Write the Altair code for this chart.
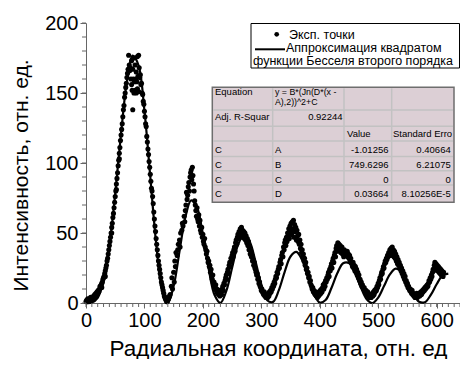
import altair as alt
import pandas as pd

# ---------------- data ----------------
# fitted curve  y = B*(J2(D*(x-A)))^2 + C
fit_x = list(range(0, 621, 10))
fit_y = [0.0, 0.3, 3.7, 15.7, 40.6, 78.0, 121.1, 158.1, 176.7, 169.5,
         137.4, 90.2, 42.9, 10.1, 0.1, 12.1, 36.9, 61.2, 73.3, 68.2,
         48.8, 24.3, 5.7, 0.1, 8.5, 25.2, 41.3, 48.6, 43.9, 29.8,
         13.3, 2.0, 0.8, 9.2, 22.3, 33.2, 36.5, 30.6, 18.7, 6.8,
         0.3, 2.1, 10.7, 21.2, 28.4, 28.5, 21.7, 11.5, 2.9, 0.0,
         3.9, 12.1, 20.4, 24.5, 22.3, 15.1, 6.6, 0.9, 0.6, 5.8,
         13.4, 19.5, 21.0]

# experimental points, lobe by lobe (x, y)
exp_rise0 = [(0,1),(1,2),(2,1),(3,3),(4,2),(5,2),(6,3),(7,2),(8,4),(9,3),(10,3),(11,4),(12,3),(13,5),(14,4),
             (15,6),(16,5),(17,7),(18,6),(19,8),(20,7),(21,9),(22,8),(23,10),(24,12),(25,11),(26,13),(27,14),
             (28,15),(29,17),(30,18),(31,19),(32,21),(33,23),(34,25),(35,27),(36,30),(37,32),(38,35),(39,38),
             (40,41),(41,44),(42,47),(43,50),(44,54),(45,57),(46,61),(47,64),(48,68),(49,72),(50,76),(51,80),
             (52,85),(53,89),(54,93),(55,98),(56,102),(57,107),(58,111),(59,116),(60,120),
             (27,11),(33,19),(44,50),(52,81),(57,103)]
exp_lobe1 = [(61,124),(62,128),(63,133),(64,138),(65,141),(66,147),(67,150),(68,154),(69,157),(70,161),
             (71,164),(72,167),(73,177),(74,170),(75,166),(76,168),(77,160),(78,173),(78,156),(79,152),
             (80,138),(80,167),(81,160),(82,150),(82,175),(83,158),(84,152),(84,170),(85,160),(86,150),
             (86,165),(87,158),(88,176),(88,153),(89,162),(90,177),(90,151),(91,168),(92,161),(93,163),
             (94,156),(95,157),(96,150),(97,149),(98,144),(99,142),(100,137),(101,133),(102,128),(103,126),
             (104,119),(105,115),(106,110),(107,106),(108,101),(109,97),(110,92),(111,87),(112,82),(113,80),
             (114,76),(115,71),(116,65),(117,60),(118,55),(119,51),(120,46),(121,42),(122,38),(123,34),
             (124,30),(125,27),(126,24),(127,21),(128,18),(129,15),(130,13),(131,11),(132,9),(133,7),
             (134,5),(135,4),(136,3),(137,2),(138,1),(139,1),(140,2),(141,3),(142,4),(143,5)]
exp_lobe2 = [(144,6),(146,12),(147,18),(148,10),(150,22),(151,15),(152,30),(153,26),(154,36),(156,34),
             (157,38),(158,42),(160,45),(161,40),(162,50),(164,52),(165,57),(166,55),(168,62),(169,58),
             (170,66),(171,70),(172,79),(173,74),(174,77),(175,83),(176,86),(177,80),(178,90),(179,93),
             (180,95),(181,88),(182,97),(183,91),(184,85),(185,80),(186,73),(187,70),(188,66),(189,62),
             (190,68),(191,60),(192,58),(193,63),(194,55),(195,59),(196,52),(197,50),(198,54),(199,47),
             (200,49),(201,44),(202,42),(203,46),(204,40),(205,38),(206,35),(207,37),(208,32),(209,29),
             (210,30),(211,26),(212,27),(213,22),(214,24),(215,19),(216,17),(217,20),(218,14),(219,15),
             (220,12),(221,11),(222,13),(223,9),(224,10),(225,7),(226,8),(227,6),(228,9),(229,5),
             (230,7),(231,8),(232,6)]
exp_lobe3 = [(233,10),(234,12),(235,9),(236,14),(237,13),(238,16),(239,18),(240,20),(241,17),(242,22),
             (243,24),(244,21),(245,27),(246,29),(247,26),(248,32),(249,30),(250,34),(251,36),(252,33),
             (253,38),(254,40),(255,37),(256,43),(257,45),(258,42),(259,47),(260,49),(261,46),(262,51),
             (263,48),(264,53),(265,50),(266,54),(267,47),(268,52),(269,49),(270,51),(271,46),(272,50),
             (273,45),(274,48),(275,43),(276,46),(277,41),(278,44),(279,38),(280,40),(281,35),(282,37),
             (283,33),(284,34),(285,30),(286,31),(287,27),(288,29),(289,25),(290,24),(291,22),(292,20),
             (293,21),(294,17),(295,18),(296,14),(297,15),(298,12),(299,11),(300,9),(301,10),(302,8),
             (303,7),(304,6),(305,8),(306,5),(307,6),(308,4),(309,5),(310,6),(311,4),(312,7),
             (313,5),(314,8),(315,7)]
exp_lobe4 = [(316,9),(317,8),(318,11),(319,10),(320,13),(321,12),(322,15),(323,14),(324,17),(325,19),
             (326,18),(327,22),(328,21),(329,24),(330,26),(331,25),(332,29),(333,31),(334,28),(335,34),
             (336,36),(337,33),(338,40),(339,38),(340,43),(341,45),(342,41),(343,47),(344,44),(345,50),
             (346,48),(347,53),(348,46),(349,55),(350,51),(351,57),(352,49),(353,58),(354,53),(355,59),
             (356,47),(357,56),(358,51),(359,54),(360,45),(361,52),(362,48),(363,44),(364,49),(365,42),
             (366,45),(367,39),(368,42),(369,36),(370,38),(371,33),(372,35),(373,30),(374,32),(375,27),
             (376,29),(377,24),(378,25),(379,21),(380,22),(381,18),(382,19),(383,15),(384,16),(385,13),
             (386,12),(387,10),(388,11),(389,8),(390,9),(391,7),(392,6),(393,8),(394,5),(395,7),
             (396,4),(397,6),(398,5),(399,8),(400,6)]
exp_lobe5 = [(401,9),(402,7),(403,10),(404,8),(405,11),(406,13),(407,10),(408,14),(409,12),(410,16),
             (411,15),(412,18),(413,17),(414,20),(415,22),(416,19),(417,24),(418,23),(419,26),(420,28),
             (421,25),(422,30),(423,32),(424,29),(425,34),(426,36),(427,33),(428,39),(429,41),(430,37),
             (431,43),(432,40),(433,42),(434,38),(435,41),(436,36),(437,39),(438,40),(439,35),(440,37),
             (441,33),(442,38),(443,34),(444,36),(445,36),(446,34),(447,37),(448,33),(449,35),(450,32),
             (451,34),(452,30),(453,32),(454,29),(455,28),(456,26),(457,29),(458,25),(459,27),(460,23),
             (461,26),(462,22),(463,24),(464,20),(465,22),(466,18),(467,20),(468,16),(469,17),(470,14),
             (471,15),(472,12),(473,13),(474,11),(475,10),(476,11),(477,9),(478,8),(479,9),(480,7),
             (481,6),(482,8),(483,5),(484,6),(485,4),(486,5),(487,6),(488,4),(489,5),(490,7),
             (491,5),(492,8),(493,6),(494,9),(495,8)]
exp_lobe6 = [(496,10),(497,9),(498,12),(499,11),(500,14),(501,13),(502,16),(503,18),(504,17),(505,20),
             (506,22),(507,21),(508,24),(509,26),(510,25),(511,28),(512,30),(513,29),(514,32),(515,31),
             (516,34),(517,33),(518,36),(519,35),(520,38),(521,34),(522,39),(523,36),(524,40),(525,35),
             (526,38),(527,33),(528,37),(529,32),(530,35),(531,30),(532,33),(533,28),(534,31),(535,27),
             (536,29),(537,25),(538,27),(539,23),(540,25),(541,21),(542,23),(543,19),(544,21),(545,17),
             (546,19),(547,15),(548,16),(549,13),(550,14),(551,11),(552,12),(553,10),(554,9),(555,10),
             (556,8),(557,7),(558,9),(559,6),(560,7),(561,5),(562,6),(563,4),(564,6),(565,5),
             (566,7),(567,4),(568,6),(569,5),(570,7),(571,5),(572,6),(573,8),(574,6),(575,7),
             (576,9),(577,8),(578,10),(579,9),(580,11)]
exp_lobe7 = [(581,10),(582,12),(583,11),(584,13),(585,12),(586,14),(587,16),(588,15),(589,18),(590,17),
             (591,20),(592,19),(593,22),(594,24),(595,23),(596,27),(597,29),(598,25),(599,28),(600,24),
             (601,27),(602,23),(603,26),(604,22),(605,25),(606,21),(607,24),(608,20),(609,23),(610,21),
             (611,19),(612,22)]

# axis ticks
x_major = [0, 100, 200, 300, 400, 500, 600]
x_minor = list(range(0, 641, 10))
y_major = [0, 50, 100, 150, 200]
y_minor = list(range(0, 201, 10))

# texts
x_title = "Радиальная координата, отн. ед"
y_title = "Интенсивность, отн. ед."
legend_points = "Эксп. точки"
legend_line_1 = "Аппроксимация квадратом"
legend_line_2 = "функции Бесселя второго порядка"
eq_label = "Equation"
eq_text = ["y = B*(Jn(D*(x -", "A),2))^2+C"]
adj_label = "Adj. R-Squar"
adj_value = "0.92244"
hdr_value = "Value"
hdr_error = "Standard Erro"
par_model = ["C", "C", "C", "C"]
par_names = ["A", "B", "C", "D"]
par_values = ["-1.01256", "749.6296", "0", "0.03664"]
par_errors = ["0.40664", "6.21075", "0", "8.10256E-5"]

# ---------------- chart ----------------
FONT = "Liberation Sans"
AX = "#666666"
W, H = 374, 280

exp_all = exp_rise0 + exp_lobe1 + exp_lobe2 + exp_lobe3 + exp_lobe4 + exp_lobe5 + exp_lobe6 + exp_lobe7
exp_df = pd.DataFrame(exp_all, columns=["x", "y"])
fit_df = pd.DataFrame({"x": fit_x, "y": fit_y})

xs = alt.Scale(domain=[0, 640], nice=False, zero=False)
ys = alt.Scale(domain=[0, 200], nice=False, zero=False)

points = alt.Chart(exp_df).mark_circle(size=26, color="black", opacity=1).encode(
    x=alt.X("x:Q", scale=xs, axis=alt.Axis(
        values=x_major, title=x_title, grid=False, domainColor=AX, tickColor=AX,
        tickSize=5, labelPadding=2, labelFontSize=20, labelFont=FONT, labelColor="black",
        labelFlush=False, labelOverlap=False, labelBound=False,
        titleFont=FONT, titleFontSize=22.5, titleFontWeight="normal", titleColor="black",
        titleX=192, titleY=52, titleBaseline="alphabetic", titleAlign="center")),
    y=alt.Y("y:Q", scale=ys, axis=alt.Axis(
        values=y_major, title=y_title, grid=False, domainColor=AX, tickColor=AX,
        tickSize=6, labelPadding=2, labelFontSize=20, labelFont=FONT, labelColor="black",
        labelOverlap=False, labelBound=False, labelFlush=False,
        titleFont=FONT, titleFontSize=21, titleFontWeight="normal", titleColor="black",
        titleAngle=270, titleX=-59, titleY=152, titleBaseline="alphabetic", titleAlign="center")),
)

fit = alt.Chart(fit_df).mark_line(color="black", strokeWidth=2.2, interpolate="catmull-rom").encode(
    x=alt.X("x:Q", scale=xs), y=alt.Y("y:Q", scale=ys))

xminor = alt.Chart(pd.DataFrame({"v": x_minor})).mark_rule(color=AX, strokeWidth=1).encode(
    x=alt.X("v:Q", scale=xs), y=alt.value(H), y2=alt.value(H + 4))
yminor = alt.Chart(pd.DataFrame({"v": y_minor})).mark_rule(color=AX, strokeWidth=1).encode(
    y=alt.Y("v:Q", scale=ys), x=alt.value(0), x2=alt.value(-4))

one = pd.DataFrame({"k": [0]})
layers = [points, fit, xminor, yminor]

# legend box
layers.append(alt.Chart(one).mark_rect(fill="white", stroke="black", strokeWidth=1).encode(
    x=alt.value(165), x2=alt.value(373.5), y=alt.value(0.5), y2=alt.value(45)))
layers.append(alt.Chart(one).mark_circle(size=22, color="black", opacity=1).encode(
    x=alt.value(190.7), y=alt.value(11.3)))
layers.append(alt.Chart(one).mark_rule(color="black", strokeWidth=2).encode(
    x=alt.value(169), x2=alt.value(199), y=alt.value(26.3)))


def txt(s, x, y, size, align="left"):
    return alt.Chart(one).mark_text(align=align, baseline="alphabetic", font=FONT,
                                    fontSize=size, color="black").encode(
        x=alt.value(x), y=alt.value(y), text=alt.value(s))


LF = 12.5
layers.append(txt(legend_points, 203, 15.5, LF))
layers.append(txt(legend_line_1, 200, 29, LF))
layers.append(txt(legend_line_2, 167, 42, LF))

# parameter table
TL, TR, TT, TB = 126.3, 368, 64.3, 179.3
col_lines = [186.7, 258, 305.7]
row_lines = [87, 103.3, 118, 133.5, 147.7, 162]
layers.append(alt.Chart(one).mark_rect(fill="#dccfd5", stroke="#6e6e6e", strokeWidth=1.5).encode(
    x=alt.value(TL), x2=alt.value(TR), y=alt.value(TT), y2=alt.value(TB)))
for cx in col_lines:
    layers.append(alt.Chart(one).mark_rule(color="#c2c2c2", strokeWidth=1.5).encode(
        x=alt.value(cx), y=alt.value(TT + 1), y2=alt.value(TB - 1)))
for ry in row_lines:
    layers.append(alt.Chart(one).mark_rule(color="#c2c2c2", strokeWidth=1.5).encode(
        x=alt.value(TL + 1), x2=alt.value(TR - 1), y=alt.value(ry)))

TF = 9.5
layers.append(txt(eq_label, 129, 72, TF))
layers.append(txt(eq_text[0], 189, 71.5, 8.8))
layers.append(txt(eq_text[1], 189, 82, 8.8))
layers.append(txt(adj_label, 129, 96.5, TF))
layers.append(txt(adj_value, 256.5, 96.5, TF, "right"))
layers.append(txt(hdr_value, 261, 114, TF))
layers.append(txt(hdr_error, 307, 114, TF))
row_base = [130.3, 145, 159.5, 173.7]
for m, n, v, e, yb in zip(par_model, par_names, par_values, par_errors, row_base):
    layers.append(txt(m, 129, yb, TF))
    layers.append(txt(n, 189, yb, TF))
    layers.append(txt(v, 302.5, yb, TF, "right"))
    layers.append(txt(e, 364.7, yb, TF, "right"))

chart = alt.layer(*layers).properties(
    width=W, height=H,
    autosize=alt.AutoSizeParams(type="none"),
    padding={"left": 78, "top": 15, "right": 0, "bottom": 56},
).configure_view(stroke=None)

chart.save("out.html", embed_options={"renderer": "svg", "actions": False})
